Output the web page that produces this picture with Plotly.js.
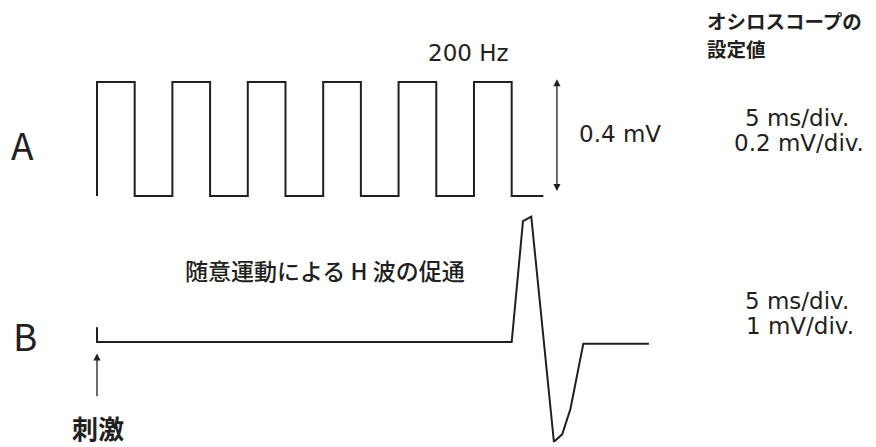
<!DOCTYPE html>
<html><head><meta charset="utf-8">
<script src="https://cdn.plot.ly/plotly-3.0.1.min.js"></script>
<style>html,body{margin:0;padding:0;background:#fff}#chart{width:876px;height:447px}</style>
</head><body><div id="chart"></div>
<script>
// Trace A: 200 Hz square wave (time in ms, amplitude in mV)
const timeA = [0, 0, 2.5, 2.5, 5, 5, 7.5, 7.5, 10, 10, 12.5, 12.5, 15, 15, 17.5, 17.5, 20, 20, 22.5, 22.5, 25, 25, 27.5, 27.5, 29.6];
const voltA = [0, 0.4, 0.4, 0, 0, 0.4, 0.4, 0, 0, 0.4, 0.4, 0, 0, 0.4, 0.4, 0, 0, 0.4, 0.4, 0, 0, 0.4, 0.4, 0, 0];
// Trace B: stimulus artifact + facilitated H wave (time in ms, amplitude in mV)
const timeB = [0, 0, 27.5, 28.25, 28.8, 30.3, 30.85, 31.4, 32.25, 36.6];
const voltB = [0.26, 0, 0, 2.12, 2.2, -1.75, -1.62, -1.17, -0.03, -0.03];

const ink = '#231f20';
const jp = '"Noto Sans CJK JP", "Noto Sans", sans-serif';
const lat = '"DejaVu Sans", "Noto Sans", sans-serif';

const traces = [
  {x: timeA, y: voltA, type: 'scatter', mode: 'lines', line: {color: ink, width: 2}, xaxis: 'x', yaxis: 'y', hoverinfo: 'skip'},
  {x: timeB, y: voltB, type: 'scatter', mode: 'lines', line: {color: ink, width: 2}, xaxis: 'x', yaxis: 'y2', hoverinfo: 'skip'}
];

function txt(text, x, y, size, family, weight, opts) {
  return Object.assign({text: text, xref: 'paper', yref: 'paper', x: x / 876, y: 1 - y / 447,
    showarrow: false, xanchor: 'center', yanchor: 'middle',
    font: {family: family, size: size, color: ink, weight: weight || 'normal'}}, opts || {});
}

const layout = {
  width: 876, height: 447,
  margin: {l: 0, r: 0, t: 0, b: 0},
  paper_bgcolor: '#fff', plot_bgcolor: '#fff',
  showlegend: false,
  xaxis: {range: [-6.432, 51.66], visible: false, fixedrange: true},
  yaxis: {range: [-0.8807, 0.6877], visible: false, fixedrange: true},
  yaxis2: {range: [-1.842, 6.0], visible: false, overlaying: 'y', fixedrange: true},
  annotations: [
    // 0.4 mV double arrow
    {x: 30.5, y: 0.41, xref: 'x', yref: 'y', ax: 30.5, ay: 0.012, axref: 'x', ayref: 'y',
     showarrow: true, arrowside: 'end+start', arrowhead: 2, arrowsize: 1.1, arrowwidth: 1.3, arrowcolor: ink, text: ''},
    // stimulus arrow
    {x: 0, y: -0.2, xref: 'x', yref: 'y2', ax: 0, ay: -0.98, axref: 'x', ayref: 'y2',
     showarrow: true, arrowhead: 2, arrowsize: 1.1, arrowwidth: 1.3, arrowcolor: ink, text: ''},
    txt('A', 22, 144, 37, jp, 'normal'),
    txt('B', 25, 335, 37, jp, 'normal'),
    txt('200 Hz', 469, 53, 23, lat),
    txt('0.4 mV', 620, 134, 23, lat),
    txt('オシロスコープの', 705, 20, 19.5, jp, 'bold', {xanchor: 'left'}),
    txt('設定値', 705, 49, 19.5, jp, 'bold', {xanchor: 'left'}),
    txt('5 ms/div.', 797, 118, 23, lat),
    txt('0.2 mV/div.', 799, 143, 23, lat),
    txt('5 ms/div.', 797, 301, 23, lat),
    txt('1 mV/div.', 800, 326, 23, lat),
    txt('随意運動による H 波の促通', 325, 270, 23, jp, 500),
    txt('刺激', 98, 427, 26, jp, 'bold')
  ]
};

Plotly.newPlot('chart', traces, layout, {displayModeBar: false, staticPlot: true});
</script></body></html>
